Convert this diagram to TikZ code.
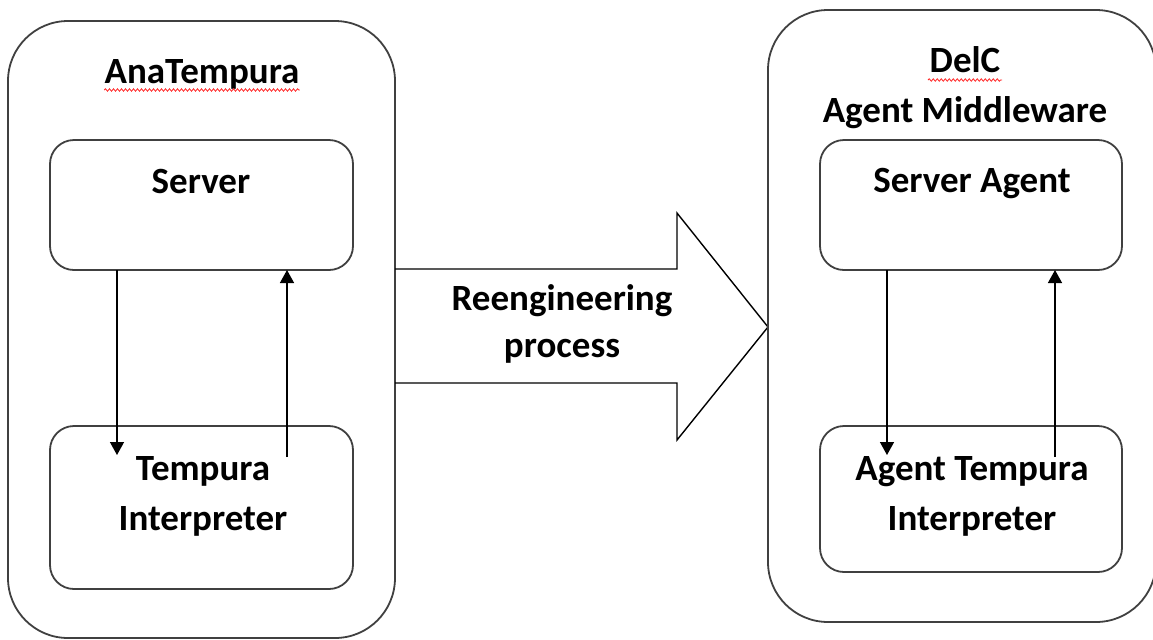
\documentclass[tikz,border=0pt]{standalone}
\usepackage{fontspec}
\setmainfont{Carlito}
\usetikzlibrary{arrows.meta,decorations.pathmorphing}
\tikzset{
  outerbox/.style={draw=black!75,line width=0.9pt,rounded corners=30pt,inner sep=0pt,outer sep=0pt},
  innerbox/.style={draw=black!75,line width=0.9pt,rounded corners=12pt,inner sep=0pt,outer sep=0pt},
  lbl/.style={font=\fontsize{18.5}{25}\selectfont\bfseries,align=center,anchor=base,inner sep=0pt},
  flow/.style={-{Triangle[width=7pt,length=6.5pt]},line width=0.7pt},
  spell/.style={red!85!white,line width=0.4pt,decorate,decoration={snake,amplitude=0.6pt,segment length=2pt}}
}
\begin{document}
\begin{tikzpicture}[x=0.5pt,y=-0.5pt]
\useasboundingbox (0,0) rectangle (1153,639);
% left side: old system
\node[outerbox,minimum width=193.5pt,minimum height=308.5pt] (lout) at (201.5,329.5) {};
\node[innerbox,minimum width=151.5pt,minimum height=65pt] (lsrv) at (201.5,205) {};
\node[innerbox,minimum width=151.5pt,minimum height=81.5pt] (lint) at (201.5,507.5) {};
\node[lbl] (ana) at (202,83) {AnaTempura};
\node[lbl] (lsrvtxt) at (201,193) {Server};
\node[lbl] (linttxt) at (203,530) {Tempura\\Interpreter};
\draw[spell] ([yshift=-3.5pt]ana.base west) -- ([yshift=-3.5pt]ana.base east);
\coordinate (ldn) at (117,455);
\coordinate (lup) at (287,457);
\draw[flow] (lsrv.south -| ldn) -- (ldn);
\draw[flow] (lup) -- (lup |- lsrv.south);
% big arrow
\draw[line width=0.7pt,line join=miter] (395,269) -- (677,269) -- (677,213) -- (768,327)
  -- (677,440) -- (677,383) -- (395,383);
\node[lbl,font=\fontsize{18.5}{23.5}\selectfont\bfseries] (reeng) at (562,357) {Reengineering\\process};
% right side: new system
\node[outerbox,minimum width=194pt,minimum height=306pt] (rout) at (962,316) {};
\node[innerbox,minimum width=151pt,minimum height=65pt] (rsrv) at (971,205) {};
\node[innerbox,minimum width=151pt,minimum height=73pt] (rint) at (971,499) {};
\node[lbl] (delc) at (965,122) {DelC\\Agent Middleware};
\node[lbl] (rsrvtxt) at (972,192) {Server Agent};
\node[lbl] (rinttxt) at (972,530) {Agent Tempura\\Interpreter};
\draw[spell] (928,80) -- (1002,80);
\coordinate (rdn) at (887,455);
\coordinate (rup) at (1055,457);
\draw[flow] (rsrv.south -| rdn) -- (rdn);
\draw[flow] (rup) -- (rup |- rsrv.south);
\end{tikzpicture}
\end{document}
